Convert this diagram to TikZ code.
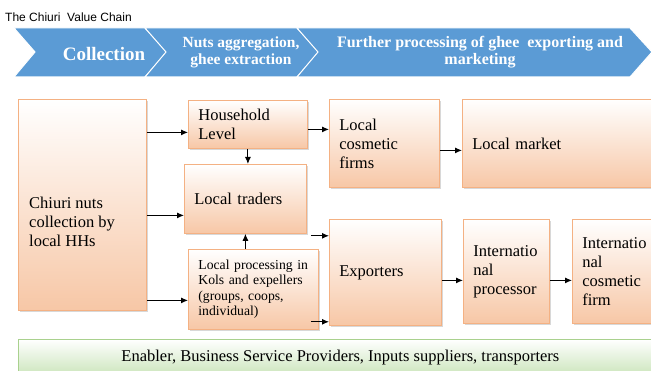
\documentclass[tikz,border=0pt]{standalone}
\usepackage{fontspec}
\setmainfont{Liberation Serif}
\newfontfamily\headfont{Liberation Sans}
\usetikzlibrary{arrows.meta,shadows}
\definecolor{chevblue}{RGB}{91,155,213}
\definecolor{boxline}{RGB}{244,177,131}
\definecolor{boxfill}{RGB}{247,199,166}
\definecolor{barline}{RGB}{169,209,142}
\definecolor{barfill}{RGB}{203,229,187}
\newcommand\bigtext{\fontsize{16.5}{19}\selectfont}
\newcommand\smalltext{\fontsize{13.7}{15.5}\selectfont}
\begin{document}
\begin{tikzpicture}[x=1pt,y=-1pt]
  \tikzstyle{stage}=[draw=boxline,line width=0.8pt,top color=white,bottom color=boxfill,
    drop shadow={shadow xshift=2pt,shadow yshift=-2pt,fill=black!30},
    anchor=north west,align=left,inner xsep=10pt,font=\bigtext]
  \tikzstyle{boxtext}=[align=left,inner sep=0pt,font=\bigtext]
  \tikzstyle{chevron}=[fill=chevblue,draw=white,line width=1pt]
  \tikzstyle{phase}=[text=white,align=center,font=\bfseries]
  \tikzstyle{flow}=[-{Latex[length=7pt,width=6pt]},line width=1pt]
  \clip (0,0) rectangle (651,371);
  % title
  \node[anchor=west,inner sep=0pt,font=\headfont\fontsize{12}{14}\selectfont] (title) at (5,17) {The Chiuri\ \ Value Chain};
  % phases
  \foreach \xa/\xb in {14/145,145/297,297/630}
    \draw[chevron] (\xa,28) -- (\xb,28) -- ++(22,24) -- (\xb,77) -- (\xa,77) -- ++(21,-25) -- cycle;
  \node[phase,font=\bfseries\fontsize{19}{21}\selectfont] (collection) at (104,54) {Collection};
  \node[phase,font=\bfseries\fontsize{15.5}{17}\selectfont] (aggregation) at (241,52) {Nuts aggregation,\\ghee extraction};
  \node[phase,font=\bfseries\fontsize{16}{17}\selectfont] (further) at (480,52) {Further processing of ghee\ \ exporting and\\marketing};
  % actors
  \node[stage,minimum width=128,minimum height=211] (chiuri) at (18,99) {};
  \node[boxtext,anchor=west] (chiuritext) at (29,222) {Chiuri nuts\\collection by\\local HHs};
  \node[stage,minimum width=119,minimum height=48,text width=99] (household) at (188,100) {Household\\Level};
  \node[stage,minimum width=122,minimum height=69,text width=102] (traders) at (184,164) {Local traders};
  \node[stage,minimum width=130,minimum height=80,text width=110,font=\smalltext] (lproc) at (188,249) {Local processing in\\Kols and expellers\\(groups, coops,\\individual)};
  \node[stage,minimum width=110,minimum height=88,text width=90] (lcos) at (329,99) {Local\\cosmetic\\firms};
  \node[stage,minimum width=200,minimum height=88,text width=180] (lmarket) at (462,99) {Local market};
  \node[stage,minimum width=112,minimum height=106,text width=92] (exporters) at (329,219) {Exporters};
  \node[stage,minimum width=86,minimum height=104,text width=66] (iproc) at (463,219) {Internatio\\nal\\processor};
  \node[stage,minimum width=90,minimum height=104,text width=70] (icos) at (572,219) {Internatio\\nal\\cosmetic\\firm};
  % enablers
  \node[draw=barline,line width=0.8pt,top color=white,bottom color=barfill,
    anchor=north west,minimum width=644,minimum height=36,font=\bigtext] (enabler) at (18,339)
    {Enabler, Business Service Providers, Inputs suppliers, transporters};
  % flows
  \draw[flow] ([yshift=-8pt]household.west -| chiuri.east) -- ([yshift=-8pt]household.west);
  \draw[flow] ([yshift=-16.5pt]traders.west -| chiuri.east) -- ([yshift=-16.5pt]traders.west);
  \draw[flow] ([yshift=-11pt]lproc.west -| chiuri.east) -- ([yshift=-11pt]lproc.west);
  \draw[flow] (household.south) -- (household.south |- traders.north);
  \draw[flow] (lproc.north -| traders.south) -- (traders.south);
  \draw[flow] ([yshift=-5pt]household.east) -- ([yshift=-5pt]household.east -| lcos.west);
  \draw[flow] ([yshift=-7pt]lcos.east) -- ([yshift=-7pt]lcos.east -| lmarket.west);
  \draw[flow] ([shift={(4,2)}]traders.south east) coordinate (t1) -- (t1 -| exporters.west);
  \draw[flow] ([shift={(-8,-8)}]lproc.south east) coordinate (t2) -- (t2 -| exporters.west);
  \draw[flow] ([yshift=-8pt]exporters.east) -- ([yshift=-8pt]exporters.east -| iproc.west);
  \draw[flow] ([yshift=-9pt]iproc.east) -- ([yshift=-9pt]iproc.east -| icos.west);
\end{tikzpicture}
\end{document}
